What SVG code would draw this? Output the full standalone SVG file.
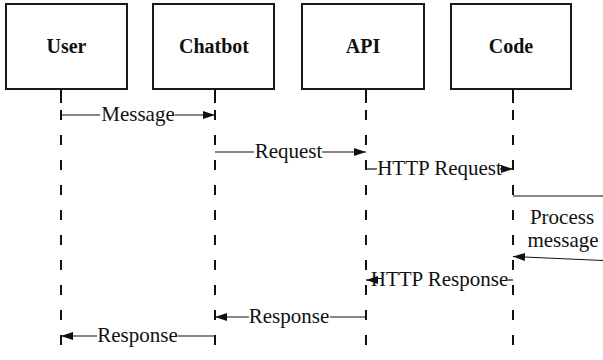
<svg xmlns="http://www.w3.org/2000/svg" width="603" height="360" viewBox="0 0 603 360">
<style>
.box{fill:#fff;stroke:#1a1a1a;stroke-width:2}
.title{font-size:20px;font-weight:bold;fill:#111;text-anchor:middle}
.life{stroke:#111;stroke-width:2;fill:none}
.dash{stroke:#111;stroke-width:2;fill:none;stroke-dasharray:10 15}
.msg{stroke:#111;stroke-width:1.2;fill:none}
.lbl{font-size:21px;fill:#111;text-anchor:middle}
</style>
<defs>
<marker id="ah" markerUnits="userSpaceOnUse" markerWidth="12" markerHeight="8" refX="12" refY="4" orient="auto">
<path d="M0,0 L12,4 L0,8 z" fill="#111"/>
</marker>
</defs>
<rect width="603" height="360" fill="#fff"/>
<g font-family="Liberation Serif, serif">
<g id="user">
<rect class="box" x="6" y="4" width="121" height="85"/>
<text class="title" x="66.5" y="53">User</text>
<line class="life" x1="61" y1="89" x2="61" y2="103"/>
<line class="dash" x1="61" y1="110" x2="61" y2="360"/>
</g>
<g id="chatbot">
<rect class="box" x="153" y="4" width="121" height="85"/>
<text class="title" x="214" y="53">Chatbot</text>
<line class="life" x1="215" y1="89" x2="215" y2="103"/>
<line class="dash" x1="215" y1="110" x2="215" y2="360"/>
</g>
<g id="api">
<rect class="box" x="302" y="4" width="122" height="85"/>
<text class="title" x="363" y="53">API</text>
<line class="life" x1="366" y1="89" x2="366" y2="103"/>
<line class="dash" x1="366" y1="110" x2="366" y2="360"/>
</g>
<g id="code">
<rect class="box" x="451" y="4" width="120" height="85"/>
<text class="title" x="511" y="53">Code</text>
<line class="life" x1="513" y1="89" x2="513" y2="103"/>
<line class="dash" x1="513" y1="110" x2="513" y2="360"/>
</g>
<g id="connectors">
<line class="msg" x1="61" y1="115" x2="100" y2="115"/>
<line class="msg" x1="175" y1="115" x2="215" y2="115" marker-end="url(#ah)"/>
<line class="msg" x1="215" y1="152" x2="254" y2="152"/>
<line class="msg" x1="322" y1="152" x2="366" y2="152" marker-end="url(#ah)"/>
<line class="msg" x1="366" y1="169" x2="377" y2="169"/>
<line class="msg" x1="500" y1="169" x2="513" y2="169" marker-end="url(#ah)"/>
<line class="msg" x1="513" y1="196" x2="603" y2="196" stroke="#444"/>
<line class="msg" x1="603" y1="260.5" x2="513" y2="256.5" marker-end="url(#ah)"/>
<line class="msg" x1="513" y1="280" x2="508" y2="280"/>
<line class="msg" x1="374" y1="280" x2="366" y2="280" marker-end="url(#ah)"/>
<line class="msg" x1="366" y1="317" x2="330" y2="317"/>
<line class="msg" x1="249" y1="317" x2="215" y2="317" marker-end="url(#ah)"/>
<line class="msg" x1="215" y1="336" x2="178" y2="336"/>
<line class="msg" x1="97" y1="336" x2="61" y2="336" marker-end="url(#ah)"/>
<text class="lbl" x="138" y="121">Message</text>
<text class="lbl" x="288.5" y="158">Request</text>
<text class="lbl" x="439.5" y="175">HTTP Request</text>
<text class="lbl" x="562" y="224">Process</text>
<text class="lbl" x="563" y="247">message</text>
<text class="lbl" x="439.5" y="286">HTTP Response</text>
<text class="lbl" x="289" y="323">Response</text>
<text class="lbl" x="137.5" y="342">Response</text>
</g>
</g>
</svg>
